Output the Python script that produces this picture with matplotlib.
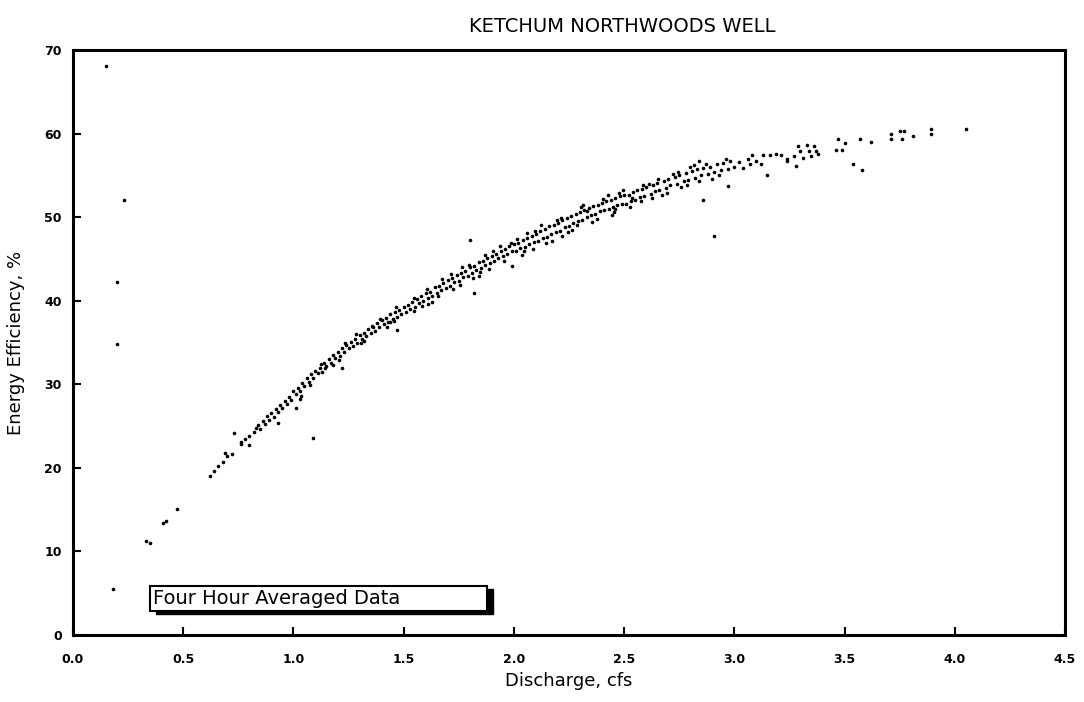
import matplotlib.pyplot as plt
from matplotlib.patches import Rectangle

# discharge (cfs) / energy efficiency (%)
q_low = [0.15, 0.23, 0.20, 0.20, 0.18, 0.33, 0.35, 0.41, 0.42, 0.47, 0.62, 0.64, 0.66, 0.68,
         0.69, 0.70, 0.72, 0.73, 0.76, 0.76, 0.78, 0.80, 0.80, 0.82, 0.83, 0.93, 1.01, 1.03,
         1.09, 1.22, 1.47, 1.61, 1.80, 1.82, 1.99, 1.84, 2.86, 2.91, 2.97, 2.84]
e_low = [68.1, 52.0, 42.2, 34.8, 5.5, 11.3, 11.0, 13.4, 13.7, 15.1, 19.0, 19.6, 20.2, 20.7,
         21.8, 21.4, 21.7, 24.2, 22.8, 23.1, 23.4, 22.7, 23.8, 24.3, 24.8, 25.4, 27.2, 28.2,
         23.6, 32.0, 36.5, 39.6, 47.3, 40.9, 44.1, 43.0, 52.1, 47.8, 53.7, 56.7]

q_a = [0.84, 0.85, 0.86, 0.87, 0.88, 0.89, 0.90, 0.91, 0.92, 0.93, 0.94, 0.95, 0.96, 0.97,
       0.98, 0.99, 1.00]
e_a = [25.1, 24.6, 25.6, 25.3, 26.2, 25.7, 26.6, 26.1, 27.0, 26.7, 27.5, 27.2, 28.0, 27.6,
       28.5, 28.1, 29.2]

q_b = [1.01, 1.02, 1.03, 1.04, 1.05, 1.06, 1.07, 1.08, 1.09, 1.10, 1.11, 1.12, 1.13, 1.14,
       1.15, 1.16, 1.17, 1.18, 1.19, 1.20, 1.21, 1.22, 1.23, 1.24, 1.25, 1.26, 1.27, 1.28,
       1.29, 1.30, 1.31, 1.32, 1.33, 1.34, 1.35, 1.36, 1.37, 1.38, 1.39, 1.40, 1.41, 1.42,
       1.43, 1.44, 1.45, 1.46, 1.47, 1.48, 1.49, 1.50,
       1.035, 1.125, 1.205, 1.285, 1.355, 1.425, 1.465, 1.18, 1.32, 1.44]
e_b = [28.8, 29.6, 29.2, 30.1, 29.8, 30.7, 30.3, 31.2, 30.7, 31.6, 31.3, 31.9, 31.5, 32.6,
       32.2, 33.0, 32.6, 33.5, 33.1, 33.9, 33.4, 34.3, 33.9, 34.7, 34.3, 35.1, 34.6, 35.4,
       35.0, 35.9, 35.4, 36.1, 35.8, 36.6, 36.1, 36.9, 36.4, 37.3, 36.8, 37.7, 37.2, 37.9,
       37.5, 38.4, 37.8, 38.6, 38.1, 38.9, 38.4, 39.3,
       28.6, 32.4, 32.9, 36.0, 37.0, 36.9, 39.2, 32.3, 35.2, 37.4]

q_c = [1.51, 1.52, 1.53, 1.54, 1.55, 1.56, 1.57, 1.58, 1.59, 1.60, 1.61, 1.62, 1.63, 1.64,
       1.65, 1.66, 1.67, 1.68, 1.69, 1.70, 1.71, 1.72, 1.73, 1.74, 1.75, 1.76, 1.77, 1.78,
       1.79, 1.80, 1.81, 1.82, 1.83, 1.84, 1.85, 1.86, 1.87, 1.88, 1.89, 1.90, 1.91, 1.92,
       1.93, 1.94, 1.95, 1.96, 1.97, 1.98, 1.99, 2.00,
       1.545, 1.605, 1.655, 1.715, 1.755, 1.795, 1.845, 1.905, 1.955, 1.985, 1.63, 1.87]
e_c = [38.7, 39.5, 39.0, 39.9, 39.3, 40.2, 39.7, 40.6, 40.0, 40.9, 40.3, 41.1, 40.6, 41.6,
       40.9, 41.8, 41.3, 42.1, 41.5, 42.5, 41.8, 42.7, 42.2, 43.1, 42.4, 43.3, 42.8, 43.6,
       43.0, 44.0, 43.3, 44.2, 43.7, 44.6, 43.9, 44.8, 44.3, 45.1, 44.5, 45.4, 44.7, 45.6,
       45.1, 46.0, 45.3, 46.2, 45.6, 46.5, 45.9, 46.8,
       38.8, 41.4, 40.6, 43.2, 41.9, 44.3, 43.4, 46.0, 44.8, 46.9, 39.9, 45.5]

q_d = [2.01, 2.02, 2.03, 2.04, 2.05, 2.06, 2.07, 2.08, 2.09, 2.10, 2.11, 2.12, 2.13, 2.14,
       2.15, 2.16, 2.17, 2.18, 2.19, 2.20, 2.21, 2.22, 2.23, 2.24, 2.25, 2.26, 2.27, 2.28,
       2.29, 2.30, 2.31, 2.32, 2.33, 2.34, 2.35, 2.36, 2.37, 2.38, 2.39, 2.40, 2.41, 2.42,
       2.43, 2.44, 2.45, 2.46, 2.47, 2.48, 2.49, 2.50,
       2.035, 2.085, 2.125, 2.175, 2.215, 2.265, 2.305, 2.355, 2.405, 2.445, 2.475, 2.06,
       2.22, 2.33, 2.46]
e_d = [46.0, 46.9, 46.3, 47.3, 46.4, 47.5, 46.8, 47.8, 47.0, 48.0, 47.2, 48.3, 47.5, 48.6,
       47.6, 48.9, 48.0, 49.1, 48.2, 49.3, 48.4, 49.6, 48.8, 49.9, 48.9, 50.1, 49.3, 50.4,
       49.5, 50.6, 49.7, 50.9, 50.0, 51.1, 50.2, 51.3, 50.4, 51.5, 50.7, 51.7, 50.8, 51.9,
       51.0, 52.1, 51.2, 52.3, 51.4, 52.5, 51.6, 52.6,
       45.5, 46.2, 49.0, 47.1, 49.9, 48.5, 51.2, 49.4, 52.2, 50.3, 52.9, 48.1,
       47.8, 50.7, 51.0]

q_e = [2.51, 2.52, 2.53, 2.54, 2.55, 2.56, 2.57, 2.58, 2.59, 2.60, 2.62, 2.63, 2.64, 2.65,
       2.66, 2.68, 2.69, 2.70, 2.71, 2.73, 2.74, 2.75, 2.77, 2.78, 2.79, 2.81, 2.82, 2.83,
       2.85, 2.86, 2.88, 2.89, 2.91, 2.92, 2.94, 2.95, 2.97, 2.98, 3.00,
       2.535, 2.575, 2.615, 2.67, 2.72, 2.76, 2.80, 2.84, 2.87, 2.90, 2.93, 2.96]
e_e = [51.6, 52.6, 51.9, 53.0, 52.1, 53.2, 52.4, 53.4, 52.5, 53.6, 52.8, 53.9, 53.1, 54.1,
       53.3, 54.3, 53.5, 54.6, 53.8, 54.8, 54.0, 55.1, 54.3, 55.3, 54.5, 55.5, 54.7, 55.7,
       55.0, 55.9, 55.2, 56.0, 55.4, 56.3, 55.6, 56.5, 55.8, 56.7, 56.0,
       52.3, 51.9, 54.0, 52.7, 55.2, 53.6, 56.0, 54.3, 56.4, 54.6, 55.0, 57.0]

q_f = [3.02, 3.04, 3.06, 3.07, 3.08, 3.10, 3.12, 3.13, 3.16, 3.19, 3.21, 3.24, 3.24, 3.27,
       3.28, 3.29, 3.30, 3.33, 3.34, 3.35, 3.36, 3.37, 3.15, 3.31, 3.38,
       3.46, 3.49, 3.47, 3.50, 3.54, 3.58, 3.57, 3.62, 3.71, 3.71, 3.75, 3.77, 3.76, 3.81,
       3.89, 3.89, 4.05]
e_f = [56.6, 55.9, 57.0, 56.3, 57.4, 56.7, 56.4, 57.4, 57.4, 57.6, 57.4, 57.0, 56.7, 57.3,
       56.1, 58.5, 57.9, 58.6, 57.9, 57.3, 58.5, 57.9, 55.0, 57.1, 57.5,
       58.0, 58.0, 59.4, 58.9, 56.4, 55.6, 59.4, 59.0, 59.9, 59.3, 60.3, 60.3, 59.3, 59.7,
       60.6, 59.9, 60.6]

# extra points that thicken the band
q_g = [1.075, 1.145, 1.235, 1.305, 1.395, 1.455, 1.545, 1.585, 1.675, 1.725, 1.765, 1.815,
       1.885, 1.935, 2.015, 2.045, 2.095, 2.145, 2.195, 2.245, 2.285, 2.315, 2.375, 2.425,
       2.455, 2.495, 2.525, 2.585, 2.625, 2.655, 2.695, 2.745, 2.785, 2.815]
e_g = [29.9, 31.9, 34.9, 34.9, 37.8, 37.6, 40.3, 39.4, 42.6, 41.4, 44.0, 42.7,
       43.8, 46.6, 47.4, 45.9, 48.4, 46.9, 49.6, 48.2, 49.0, 51.4, 49.8, 52.6,
       50.6, 53.2, 51.2, 53.9, 52.3, 54.6, 52.9, 55.4, 53.9, 56.2]

discharge = q_low + q_a + q_b + q_c + q_d + q_e + q_f + q_g
efficiency = e_low + e_a + e_b + e_c + e_d + e_e + e_f + e_g

x_ticks = [0.0, 0.5, 1.0, 1.5, 2.0, 2.5, 3.0, 3.5, 4.0, 4.5]
y_ticks = [0, 10, 20, 30, 40, 50, 60, 70]

fig = plt.figure(figsize=(10.84, 7.02), dpi=100)
ax = fig.add_axes([0.0673, 0.0954, 0.9152, 0.8334])

ax.plot(discharge, efficiency, 'o', color='black', markersize=2.6, markeredgewidth=0)

ax.set_xlim(0, 4.5)
ax.set_ylim(0, 70)
ax.set_xticks(x_ticks)
ax.set_xticklabels(['%.1f' % t for t in x_ticks])
ax.set_yticks(y_ticks)
ax.tick_params(direction='in', length=6, width=1.5, labelsize=9)
for lab in ax.get_xticklabels() + ax.get_yticklabels():
    lab.set_fontweight('bold')
ax.tick_params(axis='x', pad=13)
ax.tick_params(axis='y', pad=8)
for s in ax.spines.values():
    s.set_linewidth(2.2)

ax.set_xlabel('Discharge, cfs', fontsize=13, labelpad=4)
ax.set_ylabel('Energy Efficiency, %', fontsize=13, labelpad=14)
fig.text(0.574, 0.962, 'KETCHUM NORTHWOODS WELL', fontsize=14, ha='center', va='center')

# text box with drop shadow
ax.add_patch(Rectangle((0.375, 2.5), 1.53, 3.0, facecolor='black', edgecolor='black', zorder=3))
ax.add_patch(Rectangle((0.35, 2.9), 1.53, 3.0, facecolor='white', edgecolor='black',
                       linewidth=1.5, zorder=4))
ax.text(0.365, 4.35, 'Four Hour Averaged Data', fontsize=14, ha='left', va='center', zorder=5)

fig.savefig('out.png', dpi=100)
